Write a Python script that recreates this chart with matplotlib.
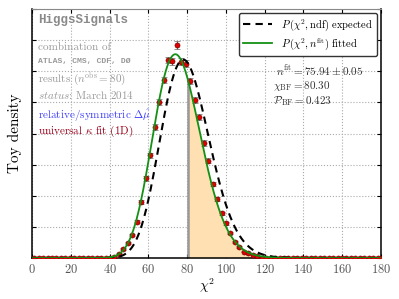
import math
import numpy as np
import matplotlib
matplotlib.use("Agg")
import matplotlib.pyplot as plt

plt.rcParams['font.family'] = ['cmr10', 'DejaVu Serif']
plt.rcParams['mathtext.fontset'] = 'cm'
plt.rcParams['axes.formatter.use_mathtext'] = True

# ---------------------------------------------------------------
# data
bin_width = 2.3
n_bins = 79
first_nonzero = 18
toy_density = [0.00016, 0.00064, 0.00145, 0.0024, 0.0037, 0.0058, 0.0090,
               0.0128, 0.0165, 0.0210, 0.0251, 0.0286, 0.0318, 0.0316,
               0.0342, 0.0315, 0.0312, 0.0284, 0.0254, 0.0226, 0.0185,
               0.0156, 0.0119, 0.0095, 0.0072, 0.0056, 0.0040, 0.0026,
               0.0018, 0.0010, 0.0008, 0.0005, 0.0003]
toy_error = [0.00005, 0.0001, 0.00013, 0.00016, 0.0002, 0.00025, 0.0003,
             0.00035, 0.0004, 0.00045, 0.0005, 0.00052, 0.00055, 0.00055,
             0.00058, 0.00055, 0.00055, 0.00052, 0.0005, 0.00047, 0.00043,
             0.0004, 0.00035, 0.0003, 0.00027, 0.00024, 0.0002, 0.00016,
             0.00013, 0.0001, 0.00009, 0.00007, 0.00005]

ndf_expected = 80
n_fit = 75.94
n_fit_err = 0.05
chi2_bf = 80.30
p_bf = 0.423

# ---------------------------------------------------------------
centers = bin_width * (np.arange(n_bins) + 0.5)
dens = np.zeros(n_bins)
errs = np.zeros(n_bins)
dens[first_nonzero:first_nonzero + len(toy_density)] = toy_density
errs[first_nonzero:first_nonzero + len(toy_error)] = toy_error


def chi2_pdf(x, k):
    x = np.asarray(x, dtype=float)
    out = np.zeros_like(x)
    m = x > 0
    lg = (k / 2 - 1) * np.log(x[m]) - x[m] / 2 - (k / 2) * math.log(2) - math.lgamma(k / 2)
    out[m] = np.exp(lg)
    return out


xs = np.linspace(0, 180, 1000)

fig = plt.figure(figsize=(3.99, 2.99), dpi=100)
ax = fig.add_axes([0.080, 0.137, 0.875, 0.833])

# shaded p-value region
xf = np.linspace(chi2_bf, 180, 500)
ax.fill_between(xf, 0, chi2_pdf(xf, n_fit), color='#ffe0b2', lw=0, zorder=1)
ax.plot([chi2_bf, chi2_bf], [0, chi2_pdf([chi2_bf], n_fit)[0]],
        color='#999999', lw=1.8, zorder=2)

ax.errorbar(centers, dens, yerr=errs, fmt='o', ms=3.6, mfc='#e00000',
            mec='#7a0000', mew=0.5, ecolor='#666666', elinewidth=0.8,
            capsize=2, capthick=0.8, zorder=3)
ax.plot(xs, chi2_pdf(xs, ndf_expected), color='black', ls=(0, (3.5, 2.5)),
        lw=1.5, zorder=4, label=r'$P\,(\chi^2,\mathrm{ndf})$ expected')
ax.plot(xs, chi2_pdf(xs, n_fit), color='#149014', lw=1.3, zorder=5,
        label=r'$P\,(\chi^2,n^{\rm fit})$ fitted')

ax.set_xlim(0, 180)
ax.set_ylim(0, 0.04)
ax.set_xticks(np.arange(0, 181, 20))
ax.set_yticks(np.arange(0, 0.0401, 0.005))
ax.set_yticklabels([])
ax.tick_params(direction='in', top=True, right=True, labelsize=9,
               length=3, colors='black', labelcolor='#555555')
ax.grid(True, ls=':', color='#aaaaaa', lw=0.8)
ax.set_axisbelow(True)
for s in ['left', 'bottom', 'right']:
    ax.spines[s].set_linewidth(1.1)
ax.spines['top'].set_color('#888888')

ax.set_xlabel(r'$\chi^2$', fontsize=10, labelpad=0)
ax.set_ylabel('Toy density', fontsize=11, labelpad=4)

leg = ax.legend(loc='upper right', fontsize=7.5, frameon=True, fancybox=True,
                borderaxespad=0.4, handlelength=2.8, labelspacing=0.3,
                borderpad=0.4)
leg.get_frame().set_edgecolor('#333333')
leg.get_frame().set_alpha(1)

grey = '#999999'
fs = 8
ax.text(0.017, 0.956, 'HiggsSignals', transform=ax.transAxes, fontsize=9,
        family='Liberation Mono', weight='bold', color='#8a8a8a', va='center')
ax.text(0.017, 0.847, 'combination of', transform=ax.transAxes, fontsize=fs,
        color=grey, va='center')
ax.text(0.017, 0.789, 'ATLAS, CMS, CDF, DØ', transform=ax.transAxes,
        fontsize=5.9, family='Liberation Mono', weight='bold', color=grey,
        va='center')
ax.text(0.017, 0.716, r'results ($n^{\rm obs} = 80$)', transform=ax.transAxes,
        fontsize=fs, color=grey, va='center')
ax.text(0.017, 0.655, r'$status$: March 2014', transform=ax.transAxes,
        fontsize=fs, color=grey, va='center')
ax.text(0.017, 0.572, r'relative/symmetric $\Delta\hat{\mu}$',
        transform=ax.transAxes, fontsize=fs, color='#4040ff', va='center')
ax.text(0.017, 0.508, r'universal $\kappa$ fit (1D)', transform=ax.transAxes,
        fontsize=fs, color='#99001a', va='center')

dark = '#333333'
ax.text(0.70, 0.751, r'$n^{\rm fit} = %.2f \pm %.2f$' % (n_fit, n_fit_err),
        transform=ax.transAxes, fontsize=8, color=dark, va='center')
ax.text(0.69, 0.691, r'$\chi_{\rm BF} = %.2f$' % chi2_bf,
        transform=ax.transAxes, fontsize=8, color=dark, va='center')
ax.text(0.69, 0.630, r'$\mathcal{P}_{\rm BF} = %.3f$' % p_bf,
        transform=ax.transAxes, fontsize=8, color=dark, va='center')

fig.savefig('out.png', dpi=100)
